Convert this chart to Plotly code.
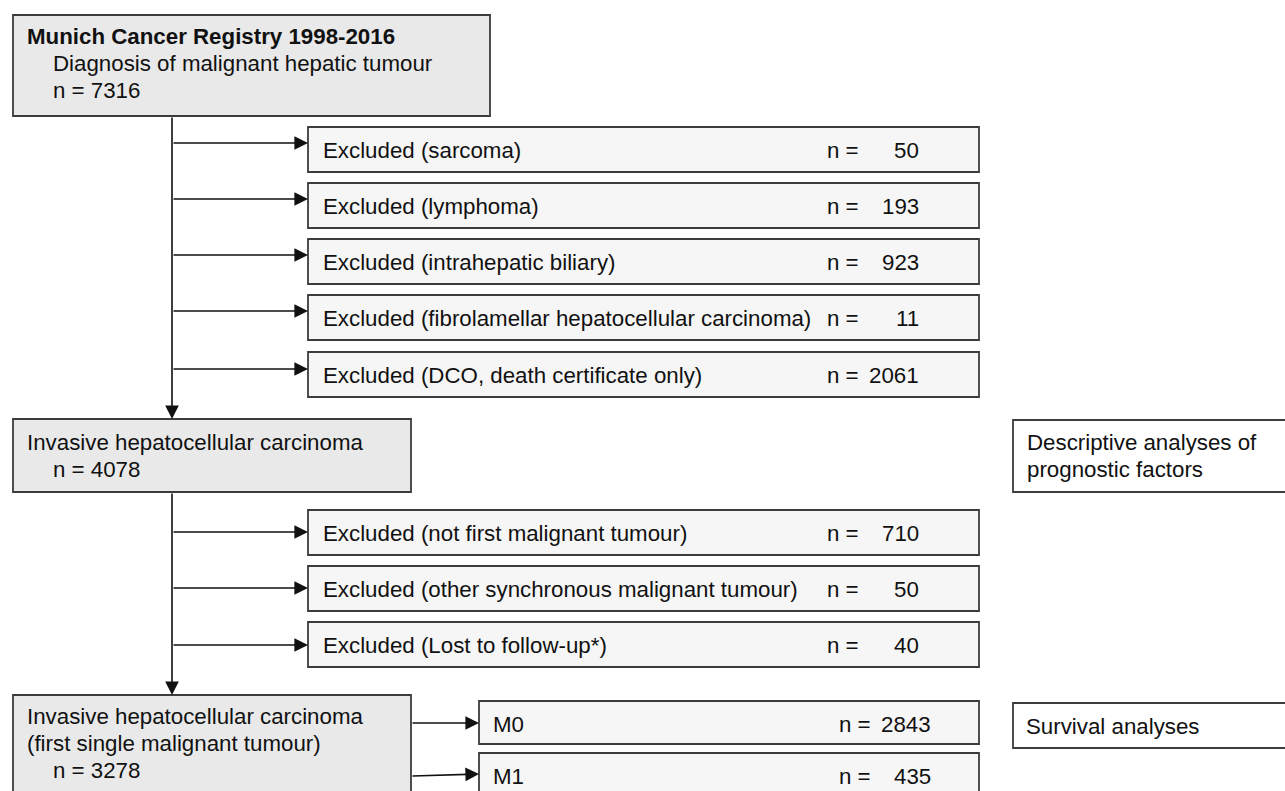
#!/usr/bin/env python3
"""Flow chart of the Munich Cancer Registry HCC cohort, redrawn with Plotly."""

import plotly.graph_objects as go

# ----------------------------------------------------------------------
# Data
TOP_LINES = ["<b>Munich Cancer Registry 1998-2016</b>",
             "Diagnosis of malignant hepatic tumour"]
TOP_N = 7316

EXCL1_LABELS = ["Excluded (sarcoma)",
                "Excluded (lymphoma)",
                "Excluded (intrahepatic biliary)",
                "Excluded (fibrolamellar hepatocellular carcinoma)",
                "Excluded (DCO, death certificate only)"]
EXCL1_N = [50, 193, 923, 11, 2061]

MID_LINES = ["Invasive hepatocellular carcinoma"]
MID_N = 4078

EXCL2_LABELS = ["Excluded (not first malignant tumour)",
                "Excluded (other synchronous malignant tumour)",
                "Excluded (Lost to follow-up*)"]
EXCL2_N = [710, 50, 40]

FINAL_LINES = ["Invasive hepatocellular carcinoma",
               "(first single malignant tumour)"]
FINAL_N = 3278

STAGE_LABELS = ["M0", "M1"]
STAGE_N = [2843, 435]

ANALYSIS_DESCRIPTIVE = ["Descriptive analyses of", "prognostic factors"]
ANALYSIS_SURVIVAL = ["Survival analyses"]

# ----------------------------------------------------------------------
# Layout constants (pixel space, y grows downward)
W, H = 1285, 791
FONT = dict(family="Liberation Sans, Arial, sans-serif", size=22.3, color="#111111")
MAIN_FILL, EXCL_FILL, WHITE = "#e9e9e9", "#f6f6f6", "#ffffff"
BORDER = "#3c3c3c"
LINE_C = "#111111"
PAD = 2  # annotation inner padding to compensate

SPINE_X = 172
EXCL_X0, EXCL_X1 = 308, 979
EXCL1_TOPS = [127, 183, 239, 295, 352]
EXCL1_ARROW = [143, 199, 255, 311, 369]
EXCL2_TOPS = [510, 566, 622]
EXCL2_ARROW = [532, 588, 645]
EXCL_H = 45

fig = go.Figure()
shapes, annos = [], []


def box(x0, y0, x1, y1, fill):
    shapes.append(dict(type="rect", xref="x", yref="y", x0=x0, y0=y0, x1=x1, y1=y1,
                       fillcolor=fill, line=dict(color=BORDER, width=1.8), layer="below"))


def text(x, y, s, anchor="left"):
    x = x - PAD if anchor == "left" else x + PAD
    annos.append(dict(x=x, y=y, xref="x", yref="y", text=s, showarrow=False,
                      xanchor=anchor, yanchor="middle", font=FONT))


def arrow(x0, y0, x1, y1):
    annos.append(dict(x=x1, y=y1, ax=x0, ay=y0, xref="x", yref="y", axref="x", ayref="y",
                      text="", showarrow=True, arrowhead=2, arrowsize=1.7,
                      arrowwidth=1.6, arrowcolor=LINE_C, standoff=0, startstandoff=0))


def count(xn, xr, y, n):
    text(xn, y, "n =")
    text(xr, y, str(n), anchor="right")


# top box
box(13, 15, 490, 116, MAIN_FILL)
text(27, 36, TOP_LINES[0])
text(53, 63, TOP_LINES[1])
text(53, 90, f"n = {TOP_N}")

# first exclusion block
arrow(SPINE_X, 116, SPINE_X, 419)
for top, ya, lab, n in zip(EXCL1_TOPS, EXCL1_ARROW, EXCL1_LABELS, EXCL1_N):
    box(EXCL_X0, top, EXCL_X1, top + EXCL_H, EXCL_FILL)
    arrow(SPINE_X, ya, EXCL_X0, ya)
    text(323, top + 23, lab)
    count(827, 919, top + 23, n)

# middle box
box(13, 419, 411, 492, MAIN_FILL)
text(27, 442, MID_LINES[0])
text(53, 469, f"n = {MID_N}")

box(1013, 420, 1295, 492, WHITE)
text(1027, 442, ANALYSIS_DESCRIPTIVE[0])
text(1027, 469, ANALYSIS_DESCRIPTIVE[1])

# second exclusion block
arrow(SPINE_X, 492, SPINE_X, 695)
for top, ya, lab, n in zip(EXCL2_TOPS, EXCL2_ARROW, EXCL2_LABELS, EXCL2_N):
    box(EXCL_X0, top, EXCL_X1, top + EXCL_H, EXCL_FILL)
    arrow(SPINE_X, ya, EXCL_X0, ya)
    text(323, top + 23, lab)
    count(827, 919, top + 23, n)

# final box + stage split
box(13, 695, 411, 805, MAIN_FILL)
text(27, 716, FINAL_LINES[0])
text(27, 743, FINAL_LINES[1])
text(53, 770, f"n = {FINAL_N}")

STAGE_TOPS = [701, 753]
STAGE_BOTTOMS = [744, 805]
STAGE_ARROW = [(723, 723), (776, 774)]
for top, bot, (ys, ye), lab, n in zip(STAGE_TOPS, STAGE_BOTTOMS, STAGE_ARROW,
                                      STAGE_LABELS, STAGE_N):
    box(479, top, 979, bot, EXCL_FILL)
    arrow(411, ys, 479, ye)
    text(493, top + 23, lab)
    count(839, 931, top + 23, n)

box(1013, 703, 1295, 748, WHITE)
text(1026, 726, ANALYSIS_SURVIVAL[0])

fig.update_layout(
    width=W, height=H,
    margin=dict(l=0, r=0, t=0, b=0),
    paper_bgcolor="white", plot_bgcolor="white",
    xaxis=dict(range=[0, W], visible=False, fixedrange=True),
    yaxis=dict(range=[H, 0], visible=False, fixedrange=True),
    shapes=shapes, annotations=annos,
    showlegend=False,
)

# drop the browser's default 8px body margin so the chart sits at (0, 0)
fig.write_html("out.html", config={"displayModeBar": False},
               post_script="document.body.style.margin='0';document.body.style.overflow='hidden';")
